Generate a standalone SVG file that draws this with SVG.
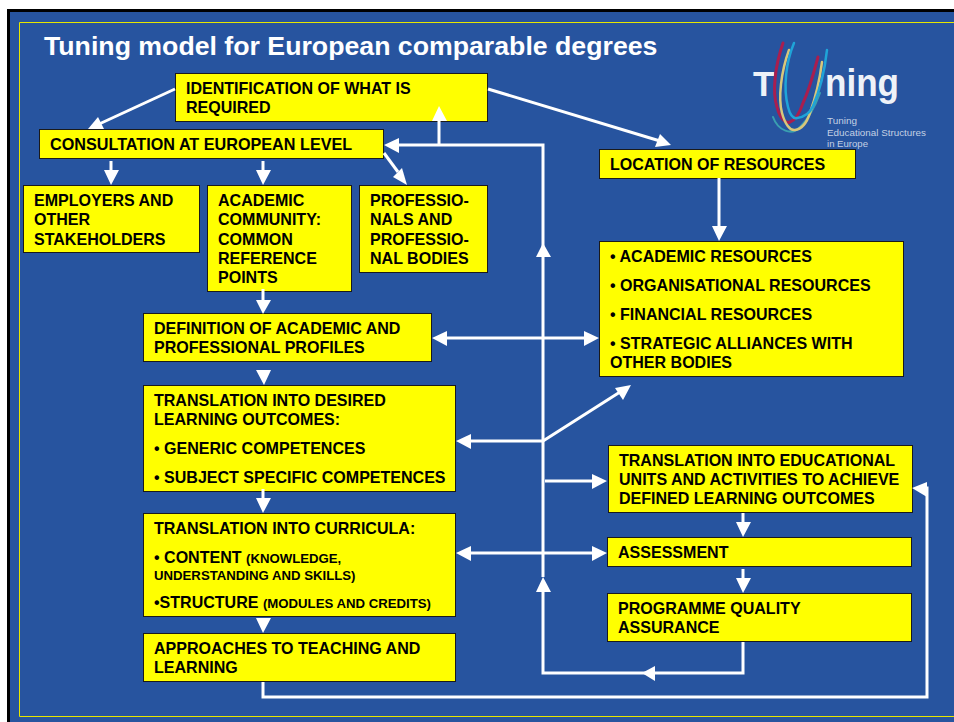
<svg xmlns="http://www.w3.org/2000/svg" width="954" height="722" viewBox="0 0 954 722">
<style>
.n{fill:#ffff00;stroke:#1a1a1a;stroke-width:1}
.t{font-family:"Liberation Sans",Arial,sans-serif;font-weight:700;font-size:16.05px;fill:#000}
.s{font-size:13.2px}
.l{stroke:#fff;stroke-width:3;fill:none}
.a{fill:#fff;stroke:none}
.h{font-family:"Liberation Sans",Arial,sans-serif;font-weight:700;font-size:26.7px;fill:#fff}
.c{fill:none;stroke-linecap:round}
.g{font-family:"Liberation Sans",sans-serif;font-weight:700;fill:#eef2f8}
.m{font-family:"Liberation Sans",sans-serif;font-size:9px;fill:#c3d0e4}
</style>
<rect width="954" height="722" fill="#fff"/>
<rect x="8.500" y="10.500" width="960" height="720" fill="#27549f" stroke="#000" stroke-width="3"/>
<path d="M954 22.500H19.500V716.500H954" fill="none" stroke="#e6e600" stroke-width="1"/>
<text class="h" x="44" y="55">Tuning model for European comparable degrees</text>
<g id="logo">
<text class="g" x="753" y="96" font-size="35">T</text>
<text class="g" x="825" y="96" font-size="38" textLength="74" lengthAdjust="spacingAndGlyphs">ning</text>
<path class="c" d="M773 117C778 131 792 136 800 127C808 119 815 107 820 93" stroke="#3a9fb0" stroke-width="2"/>
<path class="c" d="M783 43C775 66 772 92 777 107C780 118 785 124 790 122C796 120 800 112 803 103C810 88 814 72 818 57" stroke="#a91e4f" stroke-width="3"/>
<path class="c" d="M789 50C781 72 778 98 782 113C785 124 790 131 795 130C803 129 807 122 810 113C816 96 820 78 822 62" stroke="#d8c77b" stroke-width="2.500"/>
<path class="c" d="M794 43C786 62 783 88 788 107C790 115 793 119 797 118C805 117 810 113 813 106C820 90 825 68 827 50" stroke="#1fa4d8" stroke-width="2.500"/>
<text class="m" x="827" y="124" textLength="30" lengthAdjust="spacingAndGlyphs">Tuning</text>
<text class="m" x="827" y="135.500" textLength="99" lengthAdjust="spacingAndGlyphs">Educational Structures</text>
<text class="m" x="827" y="147" textLength="41" lengthAdjust="spacingAndGlyphs">in Europe</text>
</g>
<g id="n1"><rect class="n" x="175.500" y="73.500" width="312" height="48"/><text class="t" x="186" y="94">IDENTIFICATION OF WHAT IS</text><text class="t" x="186" y="113">REQUIRED</text></g>
<g id="n2"><rect class="n" x="39.500" y="129.500" width="344" height="29"/><text class="t" x="50" y="150" style="font-size:16.2px">CONSULTATION AT EUROPEAN LEVEL</text></g>
<g id="n3"><rect class="n" x="23.500" y="185.500" width="176" height="67"/><text class="t" x="34" y="206">EMPLOYERS AND</text><text class="t" x="34" y="225">OTHER</text><text class="t" x="34" y="245">STAKEHOLDERS</text></g>
<g id="n4"><rect class="n" x="207.500" y="185.500" width="144" height="106"/><text class="t" x="218" y="206">ACADEMIC</text><text class="t" x="218" y="225">COMMUNITY:</text><text class="t" x="218" y="245">COMMON</text><text class="t" x="218" y="264">REFERENCE</text><text class="t" x="218" y="283">POINTS</text></g>
<g id="n5"><rect class="n" x="359.500" y="185.500" width="128" height="87"/><text class="t" x="370" y="206">PROFESSIO-</text><text class="t" x="370" y="225">NALS AND</text><text class="t" x="370" y="245">PROFESSIO-</text><text class="t" x="370" y="264">NAL BODIES</text></g>
<g id="n6"><rect class="n" x="599.500" y="149.500" width="256" height="29"/><text class="t" x="610" y="170">LOCATION OF RESOURCES</text></g>
<g id="n7"><rect class="n" x="599.500" y="241.500" width="304" height="135"/><text class="t" x="610" y="262">• ACADEMIC RESOURCES</text><text class="t" x="610" y="291">• ORGANISATIONAL RESOURCES</text><text class="t" x="610" y="320">• FINANCIAL RESOURCES</text><text class="t" x="610" y="349">• STRATEGIC ALLIANCES WITH</text><text class="t" x="610" y="368">OTHER BODIES</text></g>
<g id="n8"><rect class="n" x="143.500" y="313.500" width="288" height="48"/><text class="t" x="154" y="334">DEFINITION OF ACADEMIC AND</text><text class="t" x="154" y="353">PROFESSIONAL PROFILES</text></g>
<g id="n9"><rect class="n" x="143.500" y="385.500" width="312" height="106"/><text class="t" x="154" y="406">TRANSLATION INTO DESIRED</text><text class="t" x="154" y="425">LEARNING OUTCOMES:</text><text class="t" x="154" y="454">• GENERIC COMPETENCES</text><text class="t" x="154" y="483">• SUBJECT SPECIFIC COMPETENCES</text></g>
<g id="n10"><rect class="n" x="143.500" y="513.500" width="312" height="103"/><text class="t" x="154" y="534">TRANSLATION INTO CURRICULA:</text><text class="t" x="154" y="563">• CONTENT <tspan class="s">(KNOWLEDGE,</tspan></text><text class="t s" x="154" y="580">UNDERSTANDING AND SKILLS)</text><text class="t" x="154" y="608">•STRUCTURE <tspan class="s">(MODULES AND CREDITS)</tspan></text></g>
<g id="n11"><rect class="n" x="143.500" y="633.500" width="312" height="48"/><text class="t" x="154" y="654">APPROACHES TO TEACHING AND</text><text class="t" x="154" y="673">LEARNING</text></g>
<g id="n12"><rect class="n" x="608.500" y="445.500" width="304" height="67"/><text class="t" x="619" y="466">TRANSLATION INTO EDUCATIONAL</text><text class="t" x="619" y="485">UNITS AND ACTIVITIES TO ACHIEVE</text><text class="t" x="619" y="504">DEFINED LEARNING OUTCOMES</text></g>
<g id="n13"><rect class="n" x="607.500" y="537.500" width="304" height="29"/><text class="t" x="618" y="558">ASSESSMENT</text></g>
<g id="n14"><rect class="n" x="607.500" y="593.500" width="304" height="48"/><text class="t" x="618" y="614">PROGRAMME QUALITY</text><text class="t" x="618" y="633">ASSURANCE</text></g>
<g id="connectors">
<path class="l" d="M175 89L97 125"/><path class="a" d="M88 129L98 117L104 129Z"/>
<path class="l" d="M488 89L660 141"/><path class="a" d="M671 145L660 134L655 147Z"/>
<path class="l" d="M395 145H543V577"/>
<path class="a" d="M384 145L399 138V153Z"/>
<path class="l" d="M439 145V120"/><path class="a" d="M439 106L447 121H432Z"/>
<path class="a" d="M543 243L551 257H536Z"/>
<path class="l" d="M111 161V172"/><path class="a" d="M111 185L104 170H119Z"/>
<path class="l" d="M263 161V172"/><path class="a" d="M263 185L256 170H271Z"/>
<path class="l" d="M384 153L398 172"/><path class="a" d="M407 185L393 177L402 168Z"/>
<path class="l" d="M719 178V228"/><path class="a" d="M719 241L712 226H727Z"/>
<path class="l" d="M263 289V302"/><path class="a" d="M263 314L256 300H271Z"/>
<path class="l" d="M445 338H586"/><path class="a" d="M432 338L447 331V346Z"/><path class="a" d="M599 338L584 331V346Z"/>
<path class="a" d="M264 385L256 370H271Z"/>
<path class="l" d="M470 441H543L620 392"/><path class="a" d="M456 441L471 434V449Z"/><path class="a" d="M631 385L623 400L615 388Z"/>
<path class="l" d="M263 489V502"/><path class="a" d="M263 513L256 498H271Z"/>
<path class="l" d="M545 481H594"/><path class="a" d="M607 481L592 474V489Z"/>
<path class="l" d="M469 553H594"/><path class="a" d="M456 553L471 546V561Z"/><path class="a" d="M607 553L592 546V561Z"/>
<path class="l" d="M743 513V526"/><path class="a" d="M743 537L736 522H751Z"/>
<path class="l" d="M743 569V582"/><path class="a" d="M743 593L736 578H751Z"/>
<path class="a" d="M263 633L256 618H271Z"/>
<path class="l" d="M743 642V673H543V590"/><path class="a" d="M543 577L551 592H536Z"/><path class="a" d="M642 673L655 666V681Z"/>
<path class="l" d="M263 682V697H927V488H925"/><path class="a" d="M912 488L927 482V497Z"/>
</g>
</svg>
